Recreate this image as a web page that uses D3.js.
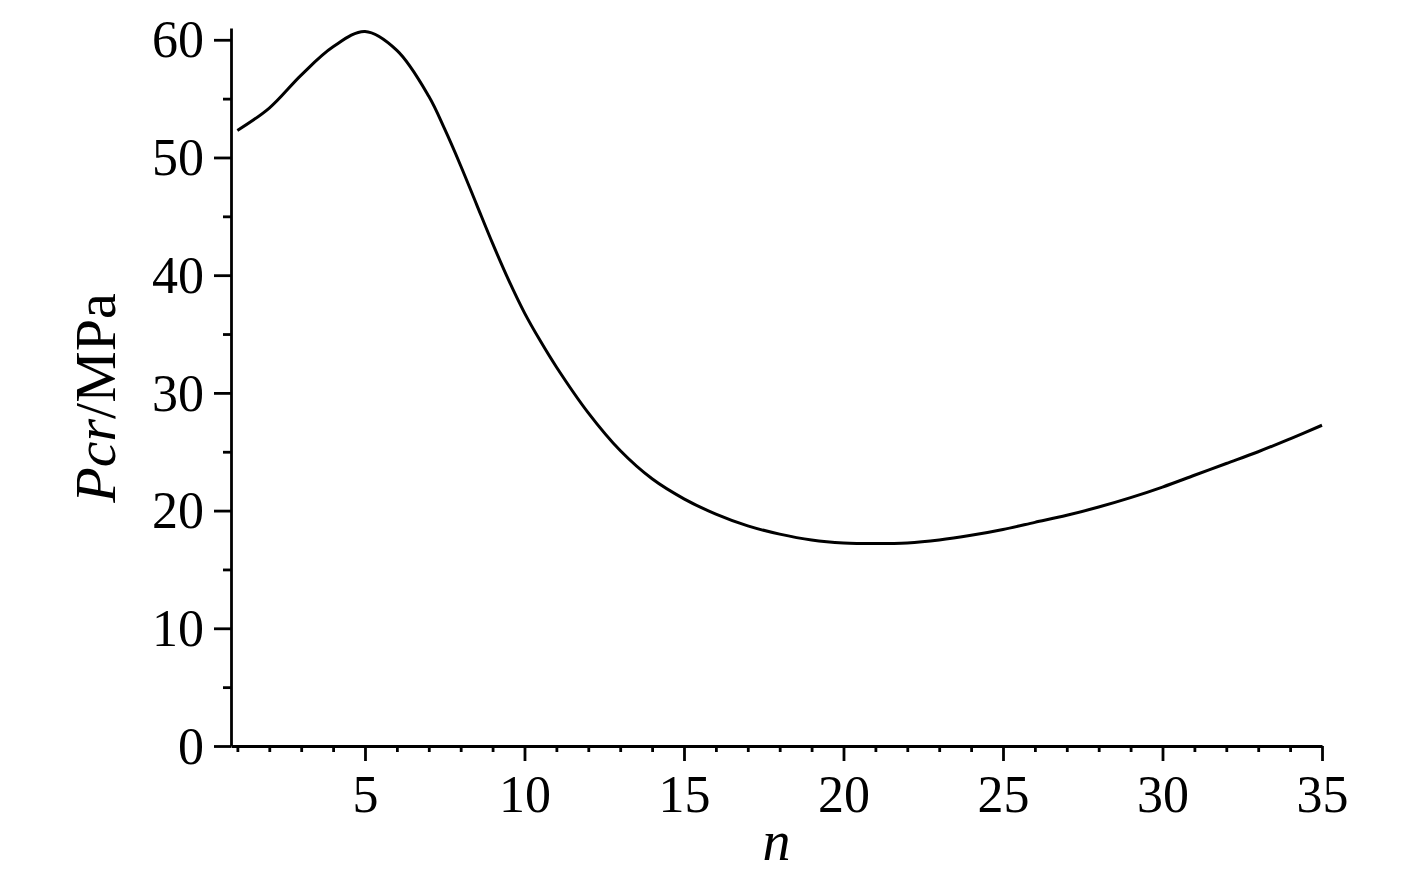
<!DOCTYPE html>
<html>
<head>
<meta charset="utf-8">
<script src="https://cdn.jsdelivr.net/npm/d3@7"></script>
<style>
  body { margin: 0; background: #fff; }
  svg text { font-family: "Liberation Serif", "Times New Roman", serif; fill: #000; }
  .axis path, .axis line { stroke: #000; stroke-width: 2.8; }
</style>
</head>
<body>
<div id="chart"></div>
<script>
// critical load vs n
const nValues = [1, 2, 3, 4, 5, 6, 7, 7.5, 8, 8.5, 9, 9.5, 10, 10.5, 11, 12, 13, 14, 15, 16, 17, 18,
                 19, 20, 21, 22, 23, 24, 25, 26, 27, 28, 29, 30, 31, 32, 33, 34, 35];
const pcrValues = [52.3, 54.2, 57.0, 59.4, 60.7, 59.1, 55.2, 52.4, 49.3, 46.0, 42.7, 39.6, 36.8, 34.4,
                   32.2, 28.3, 25.1, 22.7, 21.0, 19.7, 18.7, 18.0, 17.5, 17.25, 17.2, 17.25, 17.5, 17.9,
                   18.4, 19.0, 19.6, 20.3, 21.1, 22.0, 23.0, 24.0, 25.0, 26.1, 27.25];
const xMajor = [5, 10, 15, 20, 25, 30, 35];
const xMinor = d3.range(1, 35).filter(d => d % 5 !== 0);
const yMajor = [0, 10, 20, 30, 40, 50, 60];
const yMinor = [5, 15, 25, 35, 45, 55];

var width = 1417;
var height = 886;

var svg = d3.select("#chart").append("svg")
    .attr("width", width)
    .attr("height", height);

var x = d3.scaleLinear().domain([0.8, 35]).range([231, 1322]);
var y = d3.scaleLinear().domain([0, 61]).range([746, 28]);

// y axis
svg.append("g")
    .attr("class", "axis")
    .attr("transform", "translate(" + x(0.8) + ",0)")
    .call(d3.axisLeft(y).tickValues(yMajor).tickSize(17).tickSizeOuter(0).tickPadding(10))
    .call(g => g.selectAll("text").attr("font-size", 52).attr("dy", "0.33em"));

svg.append("g")
    .attr("class", "axis")
    .attr("transform", "translate(" + x(0.8) + ",0)")
    .call(d3.axisLeft(y).tickValues(yMinor).tickSize(8).tickFormat(""))
    .call(g => g.select(".domain").remove());

// x axis
svg.append("g")
    .attr("class", "axis")
    .attr("transform", "translate(0," + y(0) + ")")
    .call(d3.axisBottom(x).tickValues(xMajor).tickSize(15).tickSizeOuter(0).tickPadding(14))
    .call(g => g.selectAll("text").attr("font-size", 52).attr("dy", "0.71em"));

svg.append("g")
    .attr("class", "axis")
    .attr("transform", "translate(0," + y(0) + ")")
    .call(d3.axisBottom(x).tickValues(xMinor).tickSize(6).tickFormat(""))
    .call(g => g.select(".domain").remove());

// curve
var line = d3.line()
    .x((d, i) => x(nValues[i]))
    .y(d => y(d))
    .curve(d3.curveCatmullRom);

svg.append("path")
    .datum(pcrValues)
    .attr("fill", "none")
    .attr("stroke", "#000")
    .attr("stroke-width", 3)
    .attr("d", line);

// axis titles
svg.append("text")
    .attr("x", (x(0.8) + x(35)) / 2)
    .attr("y", 860)
    .attr("text-anchor", "middle")
    .attr("font-size", 56)
    .attr("font-style", "italic")
    .text("n");

var yt = svg.append("text")
    .attr("transform", "translate(115," + 398 + ") rotate(-90)")
    .attr("text-anchor", "middle")
    .attr("font-size", 58);
yt.append("tspan").attr("font-style", "italic").text("Pcr");
yt.append("tspan").text("/MPa");
</script>
</body>
</html>
